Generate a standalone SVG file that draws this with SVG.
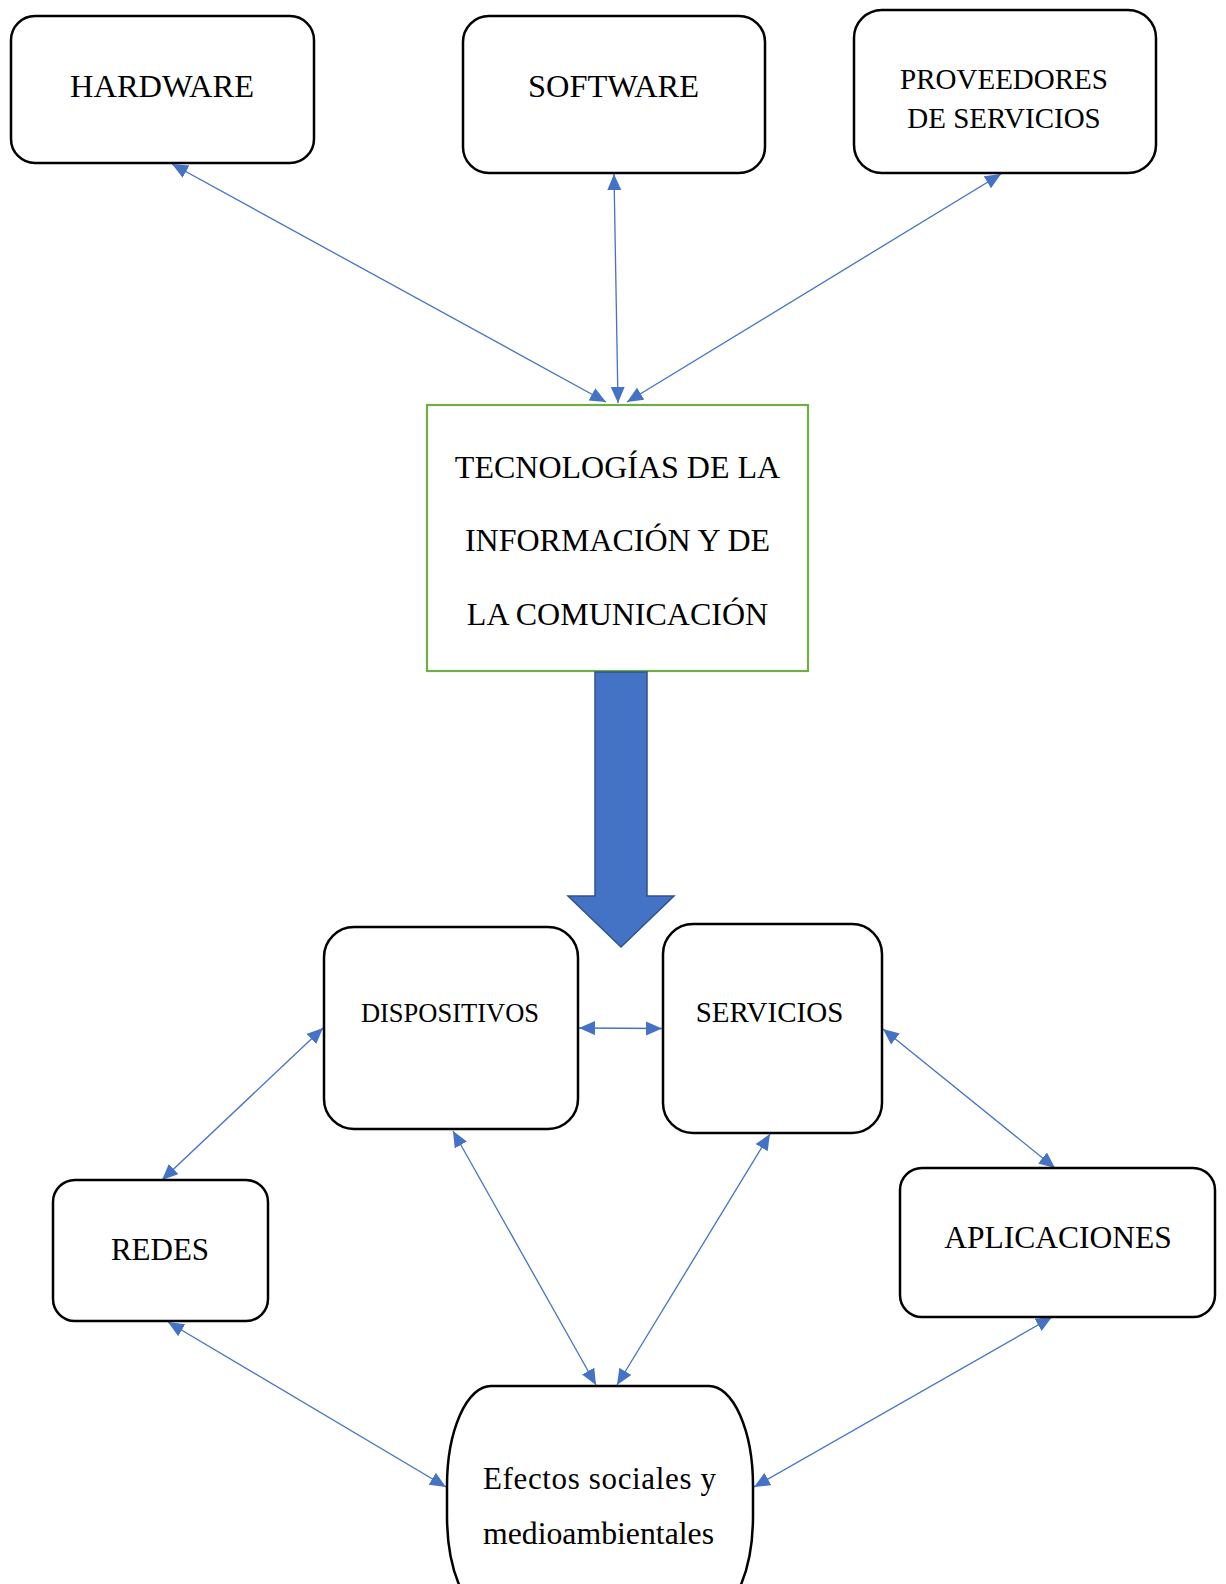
<svg xmlns="http://www.w3.org/2000/svg" width="1226" height="1584" viewBox="0 0 1226 1584">
<style>
.box{fill:#fff;stroke:#000;stroke-width:2.5}
.lbl{font-family:"Liberation Serif","Times New Roman",serif;fill:#000;text-anchor:middle}
.con{stroke:#4472C4;stroke-width:1.3;fill:none;marker-start:url(#ah);marker-end:url(#ah)}
</style>
<defs>
<marker id="ah" markerUnits="userSpaceOnUse" markerWidth="17" markerHeight="15" refX="16" refY="7" orient="auto-start-reverse">
<path d="M0,0 L16,7 L0,14 z" fill="#4472C4"/>
</marker>
</defs>
<rect width="1226" height="1584" fill="#fff"/>
<g id="connectors">
<line class="con" x1="172" y1="164" x2="606" y2="402"/>
<line class="con" x1="614" y1="174" x2="618" y2="403"/>
<line class="con" x1="1001" y1="174" x2="627" y2="402"/>
<line class="con" x1="579" y1="1028" x2="662" y2="1028.5"/>
<line class="con" x1="323" y1="1028" x2="162" y2="1180"/>
<line class="con" x1="883" y1="1029" x2="1055" y2="1168"/>
<line class="con" x1="453" y1="1131" x2="596" y2="1385"/>
<line class="con" x1="770" y1="1134" x2="617" y2="1385"/>
<line class="con" x1="168" y1="1322" x2="446" y2="1487"/>
<line class="con" x1="1052" y1="1317" x2="754" y2="1487"/>
</g>
<g id="hardware">
<rect class="box" x="11" y="16" width="303" height="147" rx="24" ry="24"/>
<text class="lbl" x="162" y="97" font-size="32" textLength="184" lengthAdjust="spacingAndGlyphs">HARDWARE</text>
</g>
<g id="software">
<rect class="box" x="463" y="16" width="302" height="157" rx="26" ry="26"/>
<text class="lbl" x="613.5" y="97" font-size="32" textLength="171" lengthAdjust="spacingAndGlyphs">SOFTWARE</text>
</g>
<g id="proveedores">
<rect class="box" x="854" y="10" width="302" height="163" rx="28" ry="28"/>
<text class="lbl" x="1004" y="89" font-size="29">PROVEEDORES</text>
<text class="lbl" x="1004" y="128" font-size="29">DE SERVICIOS</text>
</g>
<g id="tic">
<rect x="427" y="405" width="381" height="266" fill="#fff" stroke="#70AD47" stroke-width="2.2"/>
<text class="lbl" x="617.5" y="478" font-size="32">TECNOLOGÍAS DE LA</text>
<text class="lbl" x="617.5" y="551" font-size="32">INFORMACIÓN Y DE</text>
<text class="lbl" x="617.5" y="625" font-size="32">LA COMUNICACIÓN</text>
</g>
<g id="big-arrow">
<path d="M595,672 L647,672 L647,896 L674,896 L621,947 L568,896 L595,896 Z" fill="#4472C4" stroke="#2F528F" stroke-width="1.5"/>
</g>
<g id="dispositivos">
<rect class="box" x="324" y="927" width="254" height="202" rx="30" ry="30"/>
<text class="lbl" x="450" y="1022" font-size="26.5">DISPOSITIVOS</text>
</g>
<g id="servicios">
<rect class="box" x="663" y="924" width="219" height="209" rx="30" ry="30"/>
<text class="lbl" x="769.5" y="1022" font-size="29">SERVICIOS</text>
</g>
<g id="redes">
<rect class="box" x="53" y="1180" width="215" height="141" rx="22" ry="22"/>
<text class="lbl" x="160" y="1260" font-size="31">REDES</text>
</g>
<g id="aplicaciones">
<rect class="box" x="900" y="1168" width="315" height="149" rx="22" ry="22"/>
<text class="lbl" x="1058" y="1248" font-size="31.5">APLICACIONES</text>
</g>
<g id="efectos">
<rect class="box" x="447" y="1386" width="306" height="230" rx="44" ry="100"/>
<text x="483" y="1489" font-size="31" font-family="Liberation Serif, Times New Roman, serif" textLength="233" lengthAdjust="spacing">Efectos sociales y</text>
<text x="483" y="1544" font-size="31" font-family="Liberation Serif, Times New Roman, serif" textLength="231" lengthAdjust="spacingAndGlyphs">medioambientales</text>
</g>
</svg>
